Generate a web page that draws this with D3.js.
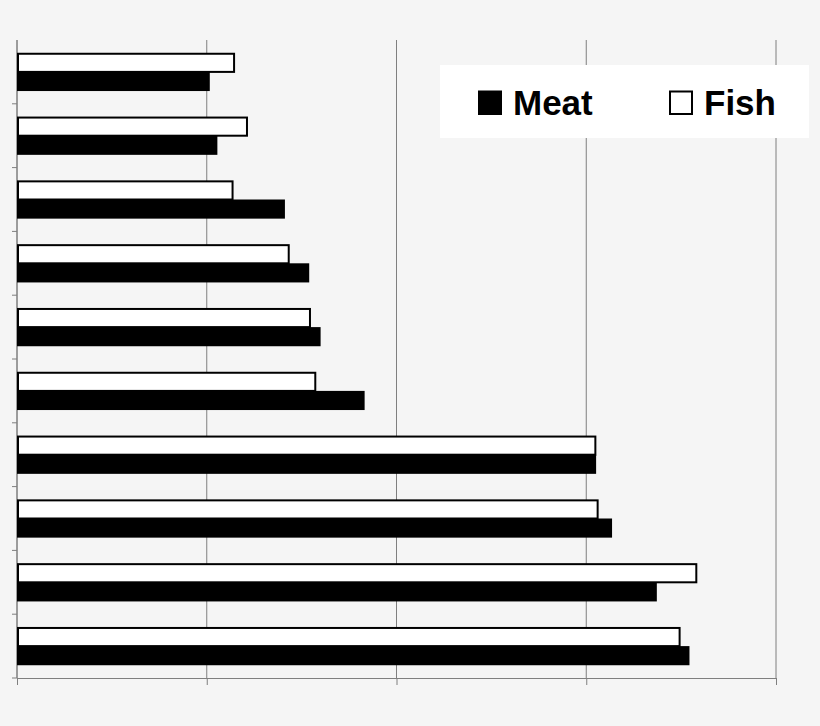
<!DOCTYPE html>
<html>
<head>
<meta charset="utf-8">
<script src="https://d3js.org/d3.v7.min.js"></script>
<style>
  body { margin: 0; background: #f5f5f5; }
  svg { display: block; }
</style>
</head>
<body>
<script>
// Data (no value labels shown, scale 0-100)
var categories = ["1", "2", "3", "4", "5", "6", "7", "8", "9", "10"];
var series = ["Fish", "Meat"];
var fishValues = [28.6, 30.3, 28.4, 35.8, 38.6, 39.3, 76.2, 76.5, 89.5, 87.3];
var meatValues = [25.4, 26.4, 35.3, 38.5, 40.0, 45.8, 76.3, 78.4, 84.3, 88.6];
var xTicks = [0, 25, 50, 75, 100];

var W = 820, H = 726;
var margin = {top: 40, right: 44, bottom: 48, left: 17},
    width = W - margin.left - margin.right,
    height = H - margin.top - margin.bottom;

var data = categories.map(function(c, i) {
  return {cat: c, Fish: fishValues[i], Meat: meatValues[i]};
});

var x = d3.scaleLinear().domain([0, 100]).range([0, width]);
var y = d3.scaleBand().domain(categories).range([0, height])
          .paddingInner(0.4).paddingOuter(0.2);
var ySub = d3.scaleBand().domain(series).range([0, y.bandwidth()]);

var svg = d3.select("body").append("svg")
    .attr("width", W).attr("height", H);
svg.append("rect").attr("width", W).attr("height", H).attr("fill", "#f5f5f5");

var g = svg.append("g")
    .attr("transform", "translate(" + margin.left + "," + margin.top + ")");

// vertical gridlines
g.selectAll(".grid")
  .data(xTicks)
  .enter().append("line")
    .attr("x1", function(d) { return x(d); })
    .attr("x2", function(d) { return x(d); })
    .attr("y1", 0).attr("y2", height)
    .attr("stroke", "#7f7f7f").attr("stroke-width", 1);

// bottom axis
var xAxis = g.append("g")
    .attr("transform", "translate(0," + height + ")")
    .call(d3.axisBottom(x).tickValues(xTicks).tickFormat("").tickSize(7).tickSizeOuter(0));
xAxis.selectAll("path, line").attr("stroke", "#7f7f7f");

// left axis with ticks at category boundaries
var bounds = d3.range(categories.length + 1).map(function(i) { return i * y.step(); });
g.append("line").attr("x1", 0).attr("x2", 0).attr("y1", 0).attr("y2", height)
  .attr("stroke", "#7f7f7f");
g.selectAll(".ytick")
  .data(bounds.slice(1))
  .enter().append("line")
    .attr("x1", -5).attr("x2", 0)
    .attr("y1", function(d) { return d; }).attr("y2", function(d) { return d; })
    .attr("stroke", "#7f7f7f");

// bars
var groups = g.selectAll(".cat")
  .data(data)
  .enter().append("g")
    .attr("transform", function(d) { return "translate(0," + y(d.cat) + ")"; });

groups.append("rect")
    .attr("x", x(0))
    .attr("y", ySub("Meat"))
    .attr("width", function(d) { return x(d.Meat) - x(0); })
    .attr("height", ySub.bandwidth())
    .attr("fill", "#000");

groups.append("rect")
    .attr("x", x(0) + 1)
    .attr("y", ySub("Fish") + 1)
    .attr("width", function(d) { return x(d.Fish) - x(0) - 1; })
    .attr("height", ySub.bandwidth() - 1)
    .attr("fill", "#fff")
    .attr("stroke", "#000")
    .attr("stroke-width", 2);

// legend
var legend = svg.append("g");
legend.append("rect")
    .attr("x", 440).attr("y", 65).attr("width", 369).attr("height", 73)
    .attr("fill", "#fff");

var legendItems = [
  {name: "Meat", fill: "#000", x: 478},
  {name: "Fish", fill: "#fff", x: 669}
];
legendItems.forEach(function(d) {
  legend.append("rect")
      .attr("x", d.x + 1).attr("y", 91.5).attr("width", 22).attr("height", 22.5)
      .attr("fill", d.fill).attr("stroke", "#000").attr("stroke-width", 2);
  legend.append("text")
      .attr("x", d.x + 35).attr("y", 115)
      .attr("font-family", "Liberation Sans, Arial, sans-serif")
      .attr("font-weight", "bold")
      .attr("font-size", 35)
      .attr("fill", "#000")
      .text(d.name);
});
</script>
</body>
</html>
